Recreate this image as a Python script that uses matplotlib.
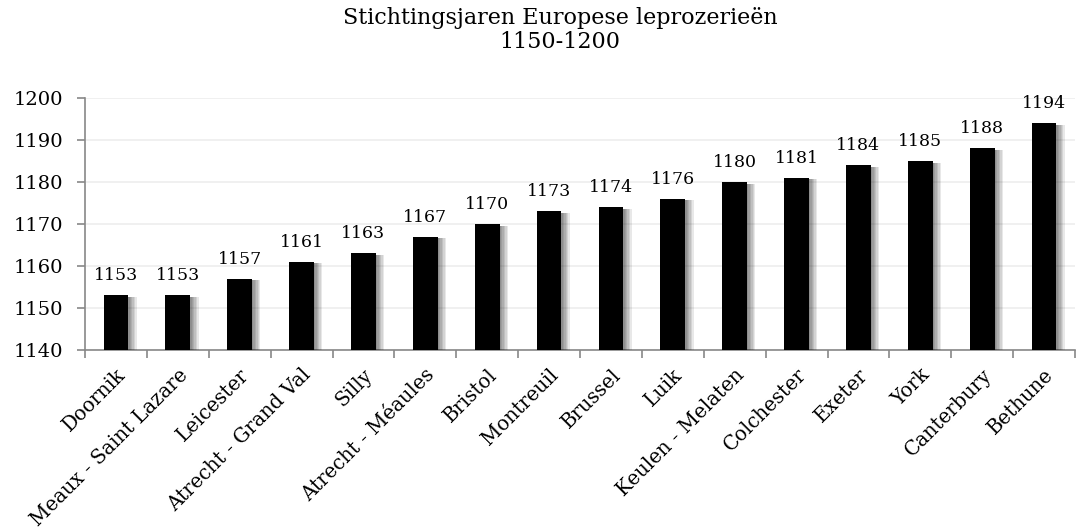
import matplotlib
matplotlib.use("Agg")
import matplotlib.pyplot as plt
import matplotlib.patheffects as pe

plt.rcParams['font.family'] = ['DejaVu Serif']

title = "Stichtingsjaren Europese leprozerieën\n1150-1200"
categories = ["Doornik", "Meaux - Saint Lazare", "Leicester", "Atrecht - Grand Val",
              "Silly", "Atrecht - Méaules", "Bristol", "Montreuil", "Brussel", "Luik",
              "Keulen - Melaten", "Colchester", "Exeter", "York", "Canterbury", "Bethune"]
years = [1153, 1153, 1157, 1161, 1163, 1167, 1170, 1173, 1174, 1176,
         1180, 1181, 1184, 1185, 1188, 1194]
yticks = [1140, 1150, 1160, 1170, 1180, 1190, 1200]

fig = plt.figure(figsize=(10.92, 5.29), dpi=100)
ax = fig.add_axes([85/1092, 1 - 350/529, 990/1092, 252/529])

x = list(range(len(categories)))
base = 1140
heights = [y - base for y in years]
shadow = [pe.SimplePatchShadow(offset=(d, -1.2), shadow_rgbFace='black', alpha=0.09)
          for d in (6, 5, 4, 3, 2, 1)] + [pe.Normal()]
bars = ax.bar(x, heights, bottom=base, width=0.4, color='black', zorder=3)
for b in bars:
    b.set_path_effects(shadow)

for xi, yv in zip(x, years):
    ax.annotate(str(yv), (xi, yv), xytext=(0, 10.8), textcoords='offset points',
                ha='center', va='baseline', fontsize=12.5, zorder=4)

ax.set_ylim(1140, 1200)
ax.set_xlim(-0.5, len(categories) - 0.5)
ax.set_yticks(yticks)
ax.set_yticklabels([str(t) for t in yticks], fontsize=14)
ax.set_xticks(x)
ax.set_xticklabels(categories, rotation=45, ha='right', rotation_mode='anchor', fontsize=14.2)
ax.tick_params(axis='x', length=0, pad=11)
ax.set_xticks([i - 0.5 for i in range(len(categories) + 1)], minor=True)
ax.tick_params(axis='x', which='minor', length=6, color='#888888', width=1.2)
ax.tick_params(axis='y', length=6, color='#888888', width=1.2, pad=10)

ax.grid(axis='y', color='#ededed', linewidth=1.2, zorder=0)
for s in ('top', 'right'):
    ax.spines[s].set_visible(False)
for s in ('left', 'bottom'):
    ax.spines[s].set_color('#888888')
    ax.spines[s].set_linewidth(1.2)

fig.text(560/1092, 1 - 30/529, title, ha='center', va='center', fontsize=16, linespacing=1.1)

fig.savefig("out.png", dpi=100)
